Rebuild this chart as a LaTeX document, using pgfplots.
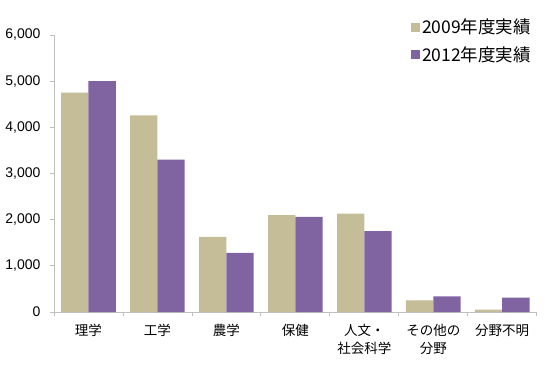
\documentclass[border=0pt]{standalone}
\usepackage{fontspec}
\setmainfont{Liberation Sans}
\newfontfamily\jp{Noto Sans CJK JP}
\usepackage{pgfplots}
\pgfplotsset{compat=1.18}
\definecolor{tanc}{HTML}{C4BD97}
\definecolor{vio}{HTML}{8064A2}
\definecolor{axgray}{HTML}{BFBFBF}
\begin{document}
\begin{tikzpicture}[x=1pt,y=1pt]
\useasboundingbox (0,0) rectangle (553,372);
\begin{axis}[
  at={(54pt,60pt)}, anchor=south west, scale only axis,
  width=482.7pt, height=277pt,
  ymin=0, ymax=6000, ytick={0,1000,...,6000},
  xmin=-0.5, xmax=6.5,
  xtick={-0.5,0.5,...,6.5},
  x tick label as interval,
  xticklabels={理学,工学,農学,保健,{人文・\\社会科学},{その他の\\分野},分野不明,{}},
  xticklabel style={font=\jp\fontsize{13.5}{17.5}\selectfont, align=center, text=black, yshift=-5pt},
  yticklabel style={font=\fontsize{14}{14}\selectfont, text=black, xshift=-6pt},
  scaled y ticks=false,
  /pgf/number format/.cd, 1000 sep={,}, assume math mode=true, /pgfplots/.cd,
  axis x line*=bottom, axis y line*=left,
  axis line style={axgray, line width=0.8pt},
  tick align=outside, major tick length=4pt,
  tick style={axgray, line width=0.8pt},
  ybar=0pt, bar width=0.396,
  legend style={at={(0.733,1.073)}, anchor=north west, draw=none, fill=none,
    font=\jp\fontsize{17.5}{17.5}\selectfont, row sep=7pt},
  legend cell align=left,
  legend image code/.code={\fill[#1] (0pt,-4.5pt) rectangle (9pt,4.5pt);},
]
\addplot[fill=tanc, draw=none] coordinates {(0,4750) (1,4260) (2,1630) (3,2100) (4,2130) (5,250) (6,50)};
\addplot[fill=vio, draw=none] coordinates {(0,5000) (1,3300) (2,1280) (3,2060) (4,1750) (5,340) (6,310)};
\legend{2009年度実績,2012年度実績}
\end{axis}
\end{tikzpicture}
\end{document}
